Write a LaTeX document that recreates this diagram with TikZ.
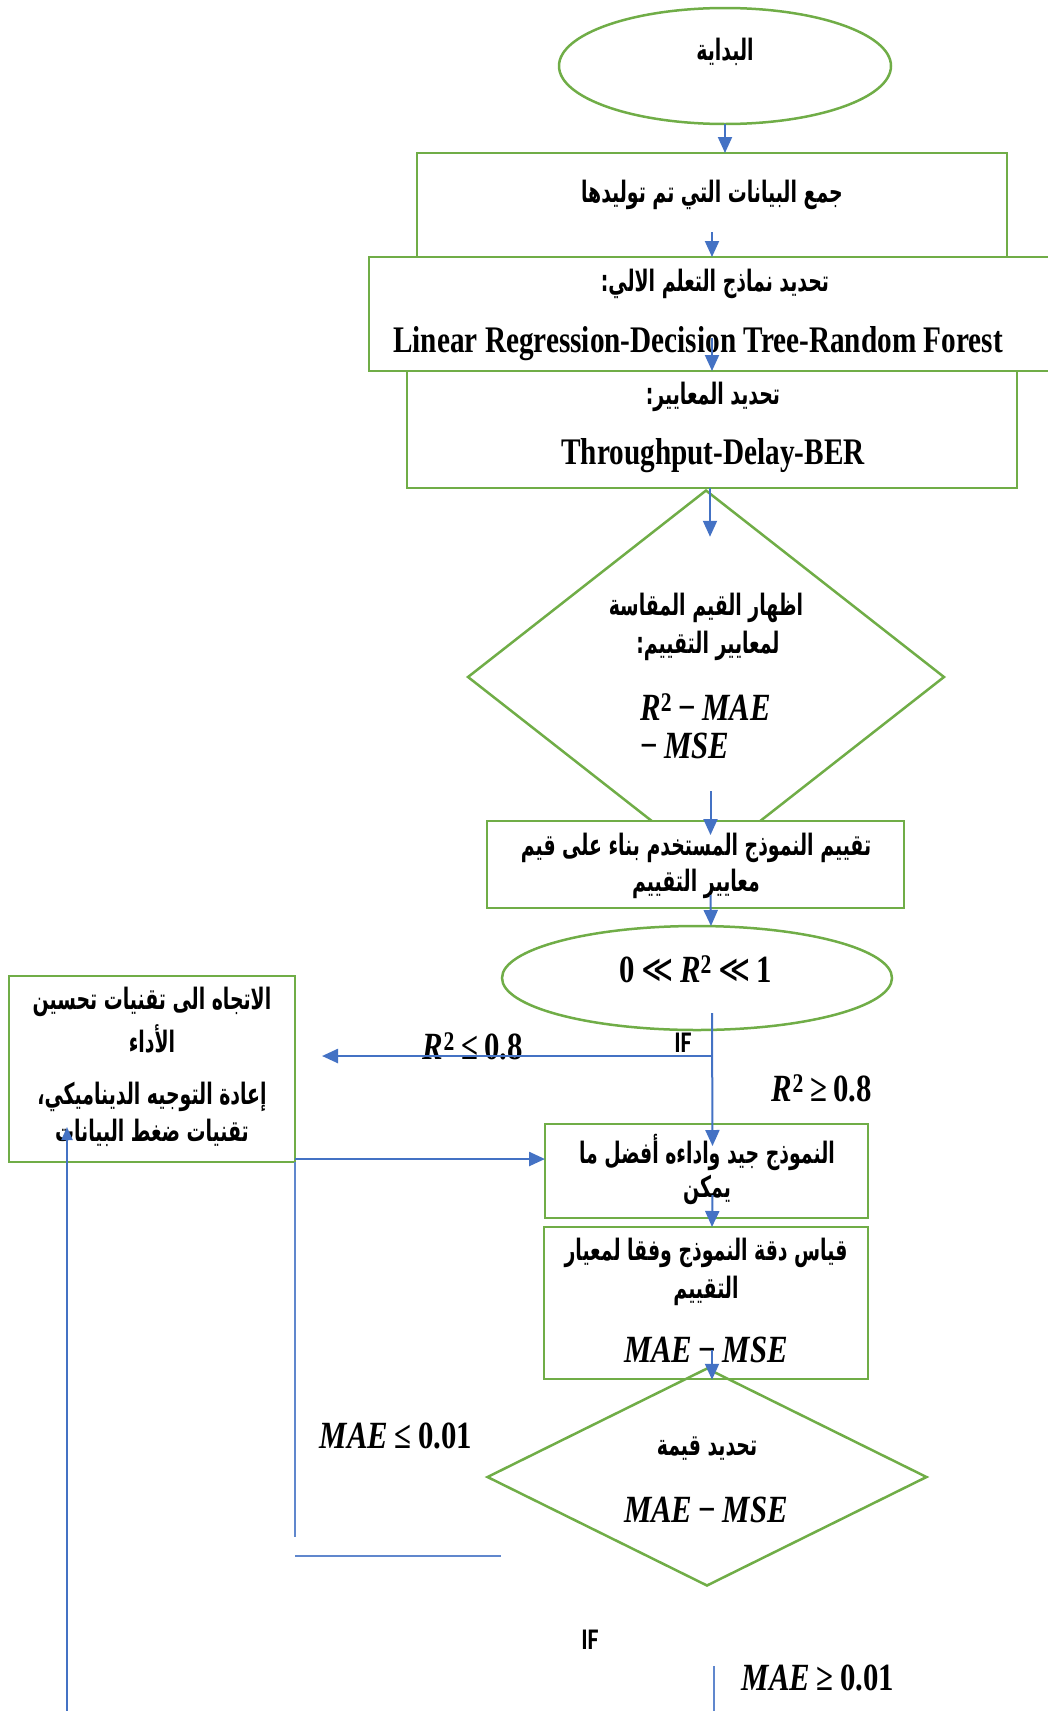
\documentclass[tikz,border=0pt]{standalone}
\usepackage{fontspec}
\usetikzlibrary{shapes.geometric}
\usetikzlibrary{arrows.meta}
\setmainfont{Liberation Serif}[FakeStretch=0.78]
\newfontfamily\arabicfont[Script=Arabic,FakeStretch=0.64]{DejaVu Sans}
\newfontfamily\iffont[FakeStretch=0.8]{Carlito}
\newfontfamily\mathfont[FakeStretch=0.8]{Liberation Serif}
\newfontfamily\symbfont[FakeStretch=0.8]{DejaVu Sans}
\TeXXeTstate=1
\definecolor{boxgreen}{HTML}{70AD47}
\definecolor{arrblue}{HTML}{4472C4}
\newcommand{\artext}[1]{{\arabicfont\bfseries\beginR #1\endR}}
\newcommand{\mvar}[1]{{\mathfont\bfseries\itshape #1}}
\newcommand{\sqr}{\textsuperscript{\mathfont\bfseries 2}}
\newcommand{\mop}[1]{\,{\mathfont\bfseries #1}\,}

\begin{document}
\begin{tikzpicture}[x=1pt,y=-1pt,
    gbox/.style={draw=boxgreen,line width=2.5pt,fill=white,inner sep=0pt,outer sep=0pt},
    arr/.style={draw=arrblue,line width=2pt,-{Triangle[width=14pt,length=16pt]}},
    thinline/.style={draw=arrblue!85,line width=1.3pt},
    artxt/.style={inner sep=0pt,font=\fontsize{29.5}{34}\selectfont},
    latxt/.style={inner sep=0pt,font=\fontsize{37.5}{42}\selectfont\bfseries},
    mtxt/.style={inner sep=0pt,font=\fontsize{38.5}{44}\selectfont},
    iftxt/.style={inner sep=0pt,font=\fontsize{30}{34}\selectfont\iffont\bfseries}]
    \path[use as bounding box] (0,0) rectangle (1048,1711);
    \clip (0,0) rectangle (1048,1711);
    % start
    \node[gbox,ellipse,minimum width=332pt,minimum height=116pt] (start) at (725,66) {};
    \node[artxt] (tstart) at (725,52) {\artext{البداية}};
    % data collection and choice of models
    \node[gbox,rectangle,minimum width=590pt,minimum height=104pt] (collect) at (712,205) {};
    \node[artxt] (tcollect) at (712,195) {\artext{جمع البيانات التي تم توليدها}};
    \node[gbox,rectangle,minimum width=691pt,minimum height=114pt] (models) at (714.5,314) {};
    \node[artxt] (tmodels) at (715,284) {\artext{تحديد نماذج التعلم الالي:}};
    \node[latxt] (tmodelsb) at (698,344) {Linear Regression-Decision Tree-Random Forest};
    \node[gbox,rectangle,minimum width=610pt,minimum height=117pt] (metrics) at (712,429.5) {};
    \node[artxt] (tmetrics) at (713,397) {\artext{تحديد المعايير:}};
    \node[latxt] (tmetricsb) at (713,456) {Throughput-Delay-BER};
    % measured values
    \node[draw=boxgreen,line width=2.5pt,diamond,inner sep=0pt,minimum width=477pt,minimum height=374pt] (show) at (706,677) {};
    \node[artxt] (tshow) at (706,608) {\artext{اظهار القيم المقاسة}};
    \node[artxt] (tshowb) at (708,646) {\artext{لمعايير التقييم:}};
    \node[mtxt,anchor=west] (tshowc) at (640,707) {\mvar{R}\sqr\mop{−}\mvar{MAE}};
    \node[mtxt,anchor=west] (tshowd) at (640,746) {{\mathfont\bfseries −}\,\mvar{MSE}};
    \node[gbox,rectangle,minimum width=417pt,minimum height=87pt] (rate) at (695.5,864.5) {};
    \node[artxt] (trate) at (696,848) {\artext{تقييم النموذج المستخدم بناء على قيم}};
    \node[artxt] (trateb) at (696,884) {\artext{معايير التقييم}};
    \node[gbox,ellipse,minimum width=390pt,minimum height=104pt] (range) at (697,978) {};
    \node[mtxt] (trange) at (696,969) {{\mathfont\bfseries 0}\mop{\symbfont\mdseries ≪}\mvar{R}\sqr\mop{\symbfont\mdseries ≪}{\mathfont\bfseries 1}};
    % left branch
    \node[gbox,rectangle,minimum width=286pt,minimum height=186pt] (improve) at (152,1069) {};
    \node[artxt] (timp) at (152,1002) {\artext{الاتجاه الى تقنيات تحسين}};
    \node[artxt] (timpb) at (152,1039) {\artext{الأداء}};
    \node[artxt] (timpc) at (152,1097) {\artext{إعادة التوجيه الديناميكي،}};
    \node[artxt] (timpd) at (152,1133) {\artext{تقنيات ضغط البيانات}};
    % right branch
    \node[gbox,rectangle,minimum width=323pt,minimum height=94pt] (good) at (706.5,1171) {};
    \node[artxt] (tgood) at (707,1152) {\artext{النموذج جيد واداءه أفضل ما}};
    \node[artxt] (tgoodb) at (707,1190) {\artext{يمكن}};
    \node[gbox,rectangle,minimum width=324pt,minimum height=152pt] (measure) at (706,1303) {};
    \node[artxt] (tmeas) at (706,1253) {\artext{قياس دقة النموذج وفقا لمعيار}};
    \node[artxt] (tmeasb) at (706,1291) {\artext{التقييم}};
    \node[mtxt] (tmeasc) at (706,1350) {\mvar{MAE}\mop{−}\mvar{MSE}};
    \node[draw=boxgreen,line width=2.5pt,diamond,inner sep=0pt,minimum width=440pt,minimum height=218pt] (value) at (707,1477) {};
    \node[artxt] (tvalue) at (707,1449) {\artext{تحديد قيمة}};
    \node[mtxt] (tvalueb) at (706,1510) {\mvar{MAE}\mop{−}\mvar{MSE}};
    % conditions
    \node[iftxt] (if1) at (683,1043) {IF};
    \node[mtxt] (lowr) at (473,1046) {\mvar{R}\sqr\mop{≤}{\mathfont\bfseries 0.8}};
    \node[mtxt] (highr) at (822,1088) {\mvar{R}\sqr\mop{≥}{\mathfont\bfseries 0.8}};
    \node[mtxt] (lowmae) at (396,1436) {\mvar{MAE}\mop{≤}{\mathfont\bfseries 0.01}};
    \node[iftxt] (if2) at (590,1640) {IF};
    \node[mtxt] (highmae) at (818,1678) {\mvar{MAE}\mop{≥}{\mathfont\bfseries 0.01}};
    % arrows
    \draw[arr] (start.south) -- (start.south |- collect.north);
    \draw[arr] ([yshift=25pt]collect.south) -- (collect.south);
    \draw[arr] ([yshift=33pt]metrics.north) -- (metrics.north);
    \draw[arr] ([xshift=-2pt]metrics.south) -- ([xshift=4pt,yshift=-48pt]show.north);
    \draw[arr] ([xshift=15pt,yshift=30pt]rate.north) -- ([xshift=15pt,yshift=-14pt]rate.north);
    \draw[arr] ([xshift=15pt,yshift=13pt]rate.south) -- ([xshift=14pt]range.north);
    \draw[arr] ([xshift=15pt,yshift=-35pt]range.center) -- ([xshift=6pt,yshift=-22pt]good.north);
    \draw[arr,line width=2.5pt] ([xshift=15pt,yshift=-78pt]range.center) -- ([xshift=27pt,yshift=13pt]improve.east);
    \draw[arr,line width=2.5pt] ([yshift=-90pt]improve.east) -- ([yshift=12pt]good.west);
    \draw[arr] ([xshift=6pt,yshift=23pt]good.south) -- ([xshift=6pt]measure.north);
    \draw[arr] ([xshift=6pt,yshift=29pt]measure.south) -- ([xshift=5pt,yshift=-13pt]value.north);
    \draw[arr,-{Triangle[width=11pt,length=13pt]}] ([xshift=-85pt,yshift=-560pt]improve.south) -- ([xshift=-85pt,yshift=-58pt]improve.center);
    \draw[thinline] ([yshift=-93pt]improve.east) -- ([yshift=-468pt]improve.east);
    \draw[thinline] ([yshift=-487pt]improve.east) -- ([xshift=15pt,yshift=-79pt]value.west);
    \draw[thinline] ([xshift=7pt,yshift=-79pt]value.south) -- ([xshift=7pt,yshift=-140pt]value.south);
\end{tikzpicture}
\end{document}
